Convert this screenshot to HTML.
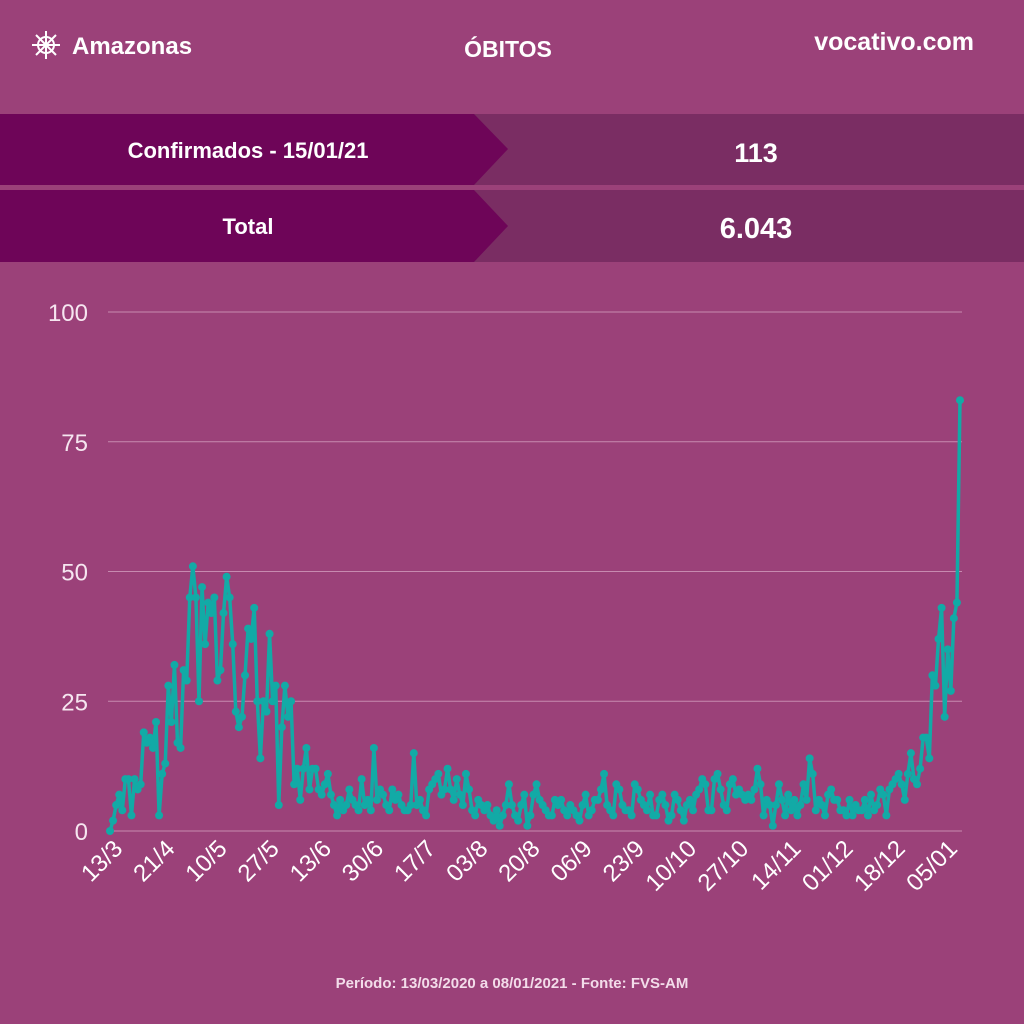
<!DOCTYPE html>
<html><head><meta charset="utf-8"><style>
body{margin:0;background:#9b4179;}
svg{display:block;font-family:"Liberation Sans",sans-serif;}
</style></head><body>
<svg width="1024" height="1024" viewBox="0 0 1024 1024">
<rect width="1024" height="1024" fill="#9b4179"/>
<g stroke="#fff" stroke-width="2" fill="none">
<circle cx="46" cy="45" r="8"/><path d="M46 31v28M32 45h28M36 35l20 20M56 35L36 55"/>
</g>
<text x="72" y="54" fill="#fff" font-size="24" font-weight="bold">Amazonas</text>
<text x="508" y="57" fill="#fff" font-size="23" font-weight="bold" text-anchor="middle">ÓBITOS</text>
<text x="974" y="50" fill="#fff" font-size="25" font-weight="bold" text-anchor="end">vocativo.com</text>
<g>
<rect x="0" y="114" width="1024" height="71" fill="#7a2d63"/>
<polygon points="0,114 474,114 508,149 474,185 0,185" fill="#6e0558"/>
<text x="248" y="158" fill="#fff" font-size="22" font-weight="bold" text-anchor="middle">Confirmados - 15/01/21</text>
<text x="756" y="162" fill="#fff" font-size="27" font-weight="bold" text-anchor="middle">113</text>
</g>
<g>
<rect x="0" y="190" width="1024" height="72" fill="#7a2d63"/>
<polygon points="0,190 474,190 508,226 474,262 0,262" fill="#6e0558"/>
<text x="248" y="234" fill="#fff" font-size="22" font-weight="bold" text-anchor="middle">Total</text>
<text x="756" y="238" fill="#fff" font-size="29" font-weight="bold" text-anchor="middle">6.043</text>
</g>
<g id="plot"></g>
<text x="512" y="988" fill="#f3dcea" font-size="15" font-weight="bold" text-anchor="middle">Período: 13/03/2020 a 08/01/2021 - Fonte: FVS-AM</text>
</svg>
<script>
const yTicks=[0,25,50,75,100];
const xLabels=["13/3","21/4","10/5","27/5","13/6","30/6","17/7","03/8","20/8","06/9","23/9","10/10","27/10","14/11","01/12","18/12","05/01"];
const labelStep=17;
const deaths=[0,2,5,7,4,10,10,3,10,8,9,19,17,18,16,21,3,11,13,28,21,32,17,16,31,29,45,51,
45,25,47,36,44,42,45,29,31,42,49,45,36,23,20,22,30,39,37,43,25,14,25,23,38,25,28,5,
20,28,22,25,9,12,6,12,16,8,12,12,8,
7,9,11,7,5,3,6,4,5,8,6,5,4,10,5,6,4,16,6,8,7,5,4,8,6,7,5,4,4,5,15,
5,6,4,3,8,9,10,11,7,8,12,8,6,10,7,5,11,8,4,3,6,5,4,5,3,2,4,1,
3,5,9,5,3,2,5,7,1,3,7,9,6,5,4,3,3,6,5,6,4,3,5,4,3,2,5,7,3,4,6,6,8,11,5,4,3,9,8,5,4,4,
3,9,8,6,5,4,7,3,3,6,7,5,2,3,7,6,4,2,5,6,4,7,8,10,9,4,4,10,11,8,5,4,9,10,7,8,7,6,7,6,8,12,9,3,6,5,
1,5,9,6,3,7,4,6,3,5,9,6,14,11,
4,6,5,3,7,8,6,6,4,4,3,6,3,5,4,4,6,3,7,4,5,8,7,3,8,9,10,11,9,6,11,
15,10,9,12,18,18,14,30,28,37,43,22,35,27,41,44,83];
const NS="http://www.w3.org/2000/svg";
const g=document.getElementById('plot');
const x0=110,x1=960,yb=831,yt=312;
const xs=i=>x0+i*(x1-x0)/(deaths.length-1);
const ys=v=>yb-(v/100)*(yb-yt);
function mk(t,a){const e=document.createElementNS(NS,t);for(const k in a)e.setAttribute(k,a[k]);g.appendChild(e);return e;}
yTicks.forEach(v=>{
 const l=mk('line',{x1:108,x2:962,y1:ys(v),y2:ys(v),stroke:'#c78ab0','stroke-width':1});
 
 
 const t=mk('text',{x:88,y:ys(v)+9,'text-anchor':'end','font-size':24,fill:'#f6e6f0'});
 t.textContent=v;
 
 
});
xLabels.forEach((s,k)=>{
 const x=xs(k*labelStep)+14,y=850;
 const t=mk('text',{x:x,y:y,'text-anchor':'end','font-size':24,fill:'#fff',transform:`rotate(-45 ${x} ${y})`});
 t.textContent=s;
 
 
});
const p=mk('polyline',{points:deaths.map((v,i)=>xs(i)+','+ys(v)).join(' '),fill:'none',stroke:'#12aaa6','stroke-width':3.5,'stroke-linejoin':'round'});


deaths.forEach((v,i)=>{
 const c=mk('circle',{cx:xs(i),cy:ys(v),r:4,fill:'#12aaa6'});
 
 
});
</script>
</body></html>
